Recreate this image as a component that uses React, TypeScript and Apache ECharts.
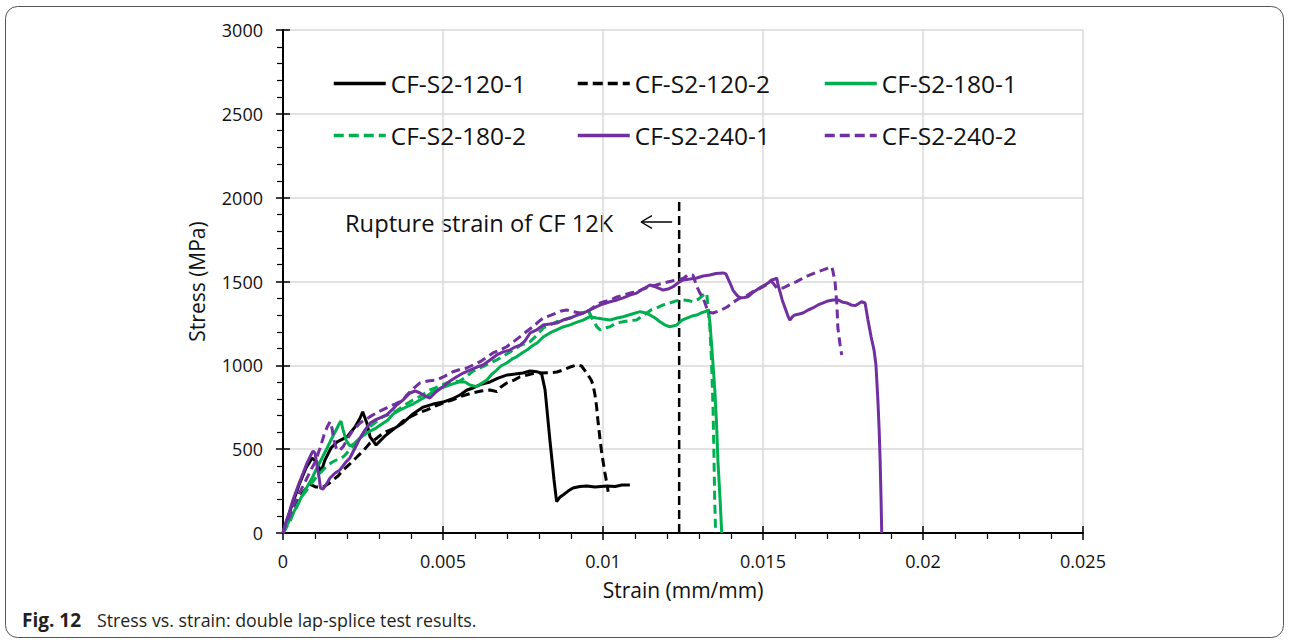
import React, { useEffect, useRef } from "react";
import * as echarts from "echarts";

type Pt = [number, number];

// x axis (strain) and y axis (stress) ranges/ticks
const X_MIN = 0;
const X_MAX = 0.025;
const X_STEP = 0.005;
const Y_MIN = 0;
const Y_MAX = 3000;
const Y_STEP = 500;

// CF-S2-120-1 (black solid)
const S120_1: Pt[] = [
  [0, 0], [0.00025, 149], [0.0005, 286], [0.00072, 388], [0.00091, 447], [0.00106, 423],
  [0.00119, 364], [0.00131, 435], [0.0015, 507], [0.00169, 543], [0.002, 573], [0.00225, 632],
  [0.00241, 686], [0.00249, 723], [0.00262, 656], [0.00272, 573], [0.00291, 525], [0.00319, 579],
  [0.0035, 626], [0.00375, 656], [0.00406, 710], [0.00438, 751], [0.00469, 769], [0.005, 781],
  [0.00528, 799], [0.00553, 823], [0.00575, 853], [0.00594, 865], [0.00622, 889], [0.00647, 901],
  [0.00672, 924], [0.00699, 942], [0.00725, 948], [0.0075, 954], [0.00772, 966], [0.00793, 962],
  [0.00808, 952], [0.00819, 853], [0.00834, 555], [0.00847, 316], [0.00855, 187], [0.00866, 215],
  [0.00875, 227], [0.00891, 250], [0.00906, 268], [0.00928, 277], [0.00949, 280], [0.00975, 274],
  [0.01012, 280], [0.01038, 277], [0.01059, 286], [0.01084, 286],
];

// CF-S2-120-2 (black dashed)
const S120_2: Pt[] = [
  [0, 0], [0.00013, 60], [0.00031, 137], [0.00044, 179], [0.00063, 245], [0.00084, 292],
  [0.00103, 274], [0.00125, 274], [0.00141, 292], [0.00156, 316], [0.00172, 340], [0.00188, 376],
  [0.00209, 412], [0.00231, 453], [0.00253, 495], [0.00272, 537], [0.00294, 567], [0.00313, 596],
  [0.00334, 614], [0.00356, 632], [0.00375, 668], [0.00397, 692], [0.00422, 716], [0.0045, 734],
  [0.00475, 757], [0.005, 775], [0.00528, 793], [0.00559, 817], [0.00591, 835], [0.00619, 847],
  [0.00647, 853], [0.00668, 843], [0.00681, 871], [0.00699, 895], [0.00722, 912], [0.00741, 932],
  [0.00763, 942], [0.00781, 951], [0.00803, 954], [0.00834, 956], [0.00856, 960], [0.00875, 972],
  [0.00897, 990], [0.00918, 1002], [0.00933, 996], [0.00949, 954], [0.00963, 913], [0.00969, 883],
  [0.00975, 823], [0.0098, 753], [0.00984, 674], [0.00991, 555], [0.00997, 465], [0.01006, 358],
  [0.01013, 286], [0.01016, 246],
];

// CF-S2-180-1 (green solid)
const S180_1: Pt[] = [
  [0, 0], [0.00013, 48], [0.00028, 107], [0.00044, 161], [0.00059, 221], [0.00075, 274],
  [0.00091, 328], [0.00106, 388], [0.00122, 447], [0.00138, 507], [0.00153, 567], [0.00166, 614],
  [0.00175, 650], [0.00181, 668], [0.00188, 614], [0.00197, 555], [0.00209, 519], [0.00222, 531],
  [0.00234, 555], [0.00253, 584], [0.00272, 608], [0.00291, 626], [0.00309, 650], [0.00328, 674],
  [0.00344, 710], [0.00366, 734], [0.00387, 753], [0.00406, 769], [0.00428, 793], [0.0045, 817],
  [0.00469, 843], [0.00494, 865], [0.00522, 883], [0.00541, 895], [0.00553, 902], [0.00569, 901],
  [0.00584, 883], [0.00605, 873], [0.00622, 895], [0.00637, 912], [0.00653, 948], [0.00668, 972],
  [0.00681, 996], [0.00699, 1014], [0.00716, 1038], [0.0073, 1051], [0.00747, 1074], [0.00762, 1091],
  [0.00778, 1115], [0.00794, 1133], [0.00813, 1169], [0.00834, 1193], [0.00855, 1211], [0.00875, 1229],
  [0.00897, 1241], [0.00919, 1258], [0.00938, 1270], [0.00959, 1290], [0.0098, 1282], [0.01, 1276],
  [0.01022, 1270], [0.01044, 1282], [0.01063, 1290], [0.01091, 1306], [0.01116, 1320], [0.01134, 1312],
  [0.01147, 1300], [0.01163, 1282], [0.01178, 1260], [0.01194, 1240], [0.01209, 1230], [0.0123, 1240],
  [0.01247, 1270], [0.01262, 1282], [0.01278, 1294], [0.01293, 1300], [0.01306, 1312], [0.01319, 1320],
  [0.01328, 1330], [0.01334, 1258], [0.01339, 1133], [0.01344, 1002], [0.0135, 835], [0.01355, 644],
  [0.01359, 435], [0.01366, 197], [0.01371, 0],
];

// CF-S2-180-2 (green dashed)
const S180_2: Pt[] = [
  [0, 0], [0.00012, 38], [0.00022, 67], [0.00031, 113], [0.00043, 157], [0.00056, 209],
  [0.00074, 256], [0.00088, 292], [0.00105, 336], [0.00116, 358], [0.00125, 376], [0.00141, 406],
  [0.00156, 425], [0.00172, 441], [0.00183, 447], [0.00194, 465], [0.00203, 485], [0.00216, 513],
  [0.0023, 545], [0.0025, 590], [0.00272, 634], [0.00294, 668], [0.00313, 694], [0.00334, 710],
  [0.00355, 728], [0.00375, 757], [0.00406, 793], [0.00431, 817], [0.00459, 853], [0.00484, 871],
  [0.00512, 895], [0.00531, 901], [0.00553, 907], [0.00575, 936], [0.00594, 966], [0.00616, 984],
  [0.00641, 1008], [0.00668, 1032], [0.00694, 1062], [0.00719, 1091], [0.00744, 1121], [0.00772, 1141],
  [0.00791, 1175], [0.00813, 1223], [0.00834, 1241], [0.00855, 1260], [0.00875, 1270], [0.00897, 1282],
  [0.00919, 1300], [0.00938, 1312], [0.00953, 1330], [0.00969, 1270], [0.00981, 1229], [0.00991, 1211],
  [0.01006, 1223], [0.01022, 1230], [0.01041, 1252], [0.01063, 1260], [0.01084, 1267], [0.01105, 1270],
  [0.01122, 1294], [0.01137, 1312], [0.0115, 1330], [0.01168, 1342], [0.01188, 1360], [0.01209, 1372],
  [0.01228, 1384], [0.0125, 1390], [0.01266, 1387], [0.01281, 1379], [0.01294, 1390], [0.01303, 1402],
  [0.01313, 1419], [0.01324, 1431], [0.01328, 1360], [0.01334, 1230], [0.01339, 1032], [0.01342, 853],
  [0.01344, 734], [0.01347, 435], [0.01349, 197], [0.01352, 0],
];

// CF-S2-240-1 (purple solid)
const S240_1: Pt[] = [
  [0, 0], [0.00006, 48], [0.00019, 119], [0.00031, 197], [0.00047, 280], [0.00063, 358],
  [0.00075, 417], [0.0009, 477], [0.00094, 489], [0.001, 477], [0.00106, 406], [0.00113, 328],
  [0.00117, 268], [0.00125, 262], [0.00134, 286], [0.00147, 328], [0.00163, 358], [0.00178, 376],
  [0.00194, 417], [0.00209, 447], [0.00225, 507], [0.00241, 567], [0.00256, 614], [0.00272, 656],
  [0.00288, 674], [0.00303, 686], [0.00324, 704], [0.00344, 740], [0.00355, 763], [0.00375, 793],
  [0.00397, 835], [0.00413, 847], [0.00428, 835], [0.00444, 817], [0.00459, 805], [0.00478, 841],
  [0.005, 873], [0.00522, 907], [0.00543, 932], [0.00563, 954], [0.00584, 972], [0.00606, 990],
  [0.00625, 1002], [0.00647, 1032], [0.00668, 1062], [0.00688, 1080], [0.00709, 1091], [0.00725, 1109],
  [0.00741, 1121], [0.00756, 1145], [0.00772, 1193], [0.00793, 1211], [0.00813, 1241], [0.00834, 1246],
  [0.00855, 1252], [0.00875, 1270], [0.00897, 1282], [0.00919, 1300], [0.00938, 1312], [0.00959, 1330],
  [0.0098, 1350], [0.01, 1366], [0.01022, 1379], [0.01044, 1390], [0.01063, 1402], [0.01084, 1419],
  [0.01105, 1431], [0.01125, 1455], [0.01147, 1479], [0.01166, 1467], [0.01188, 1449], [0.01203, 1455],
  [0.01219, 1469], [0.01234, 1491], [0.0125, 1509], [0.01272, 1515], [0.01293, 1521], [0.01313, 1533],
  [0.01334, 1539], [0.01353, 1548], [0.01375, 1551], [0.01384, 1545], [0.01397, 1491], [0.01406, 1449],
  [0.01418, 1419], [0.01428, 1402], [0.01441, 1405], [0.01453, 1409], [0.01466, 1431], [0.0148, 1449],
  [0.01494, 1467], [0.01506, 1479], [0.01516, 1491], [0.01527, 1509], [0.01538, 1515], [0.01543, 1521],
  [0.01547, 1479], [0.01553, 1439], [0.0156, 1390], [0.01569, 1342], [0.01578, 1294], [0.01584, 1270],
  [0.01594, 1294], [0.016, 1300], [0.01613, 1306], [0.01625, 1312], [0.01641, 1330], [0.01656, 1342],
  [0.01672, 1360], [0.01688, 1372], [0.01703, 1384], [0.01719, 1390], [0.01734, 1390], [0.01747, 1378],
  [0.01762, 1372], [0.01775, 1360], [0.01788, 1356], [0.01797, 1366], [0.01808, 1379], [0.01819, 1372],
  [0.01828, 1270], [0.01838, 1169], [0.01847, 1091], [0.01853, 1002], [0.01859, 793], [0.01863, 614],
  [0.01866, 435], [0.01869, 197], [0.01871, 0],
];

// CF-S2-240-2 (purple dashed)
const S240_2: Pt[] = [
  [0, 0], [0.00009, 54], [0.00016, 78], [0.00028, 137], [0.00041, 197], [0.00053, 245],
  [0.00069, 304], [0.00084, 364], [0.001, 423], [0.00116, 507], [0.00128, 584], [0.00138, 632],
  [0.00147, 664], [0.00153, 626], [0.00159, 555], [0.00168, 495], [0.00178, 495], [0.00188, 515],
  [0.00203, 567], [0.00219, 614], [0.00241, 656], [0.00272, 694], [0.00297, 722], [0.00324, 746],
  [0.0035, 769], [0.00375, 793], [0.00387, 823], [0.00406, 859], [0.00428, 895], [0.00453, 907],
  [0.0048, 912], [0.00506, 936], [0.00531, 962], [0.00553, 975], [0.00574, 984], [0.00594, 1002],
  [0.00616, 1022], [0.00638, 1050], [0.00656, 1074], [0.00678, 1091], [0.00699, 1111], [0.00719, 1139],
  [0.00741, 1171], [0.00763, 1205], [0.00781, 1230], [0.00797, 1258], [0.00813, 1282], [0.00834, 1297],
  [0.00855, 1312], [0.00869, 1324], [0.00887, 1330], [0.00903, 1321], [0.00928, 1312], [0.00944, 1318],
  [0.00959, 1330], [0.00975, 1354], [0.00991, 1372], [0.01006, 1381], [0.01022, 1390], [0.01044, 1408],
  [0.01063, 1419], [0.01084, 1431], [0.01105, 1439], [0.01125, 1455], [0.01147, 1469], [0.01166, 1479],
  [0.01188, 1491], [0.01209, 1500], [0.0123, 1509], [0.0125, 1518], [0.01266, 1539], [0.01281, 1539],
  [0.01294, 1467], [0.01303, 1431], [0.01313, 1402], [0.01322, 1354], [0.01328, 1318], [0.01344, 1312],
  [0.01366, 1327], [0.01388, 1348], [0.01406, 1375], [0.01428, 1402], [0.01447, 1413], [0.01466, 1437],
  [0.01484, 1452], [0.015, 1469], [0.01516, 1488], [0.01527, 1499], [0.01534, 1485], [0.01543, 1461],
  [0.01563, 1461], [0.01584, 1482], [0.01605, 1499], [0.01625, 1521], [0.01647, 1539], [0.01669, 1557],
  [0.01688, 1569], [0.01703, 1580], [0.01715, 1588], [0.01719, 1557], [0.01725, 1499], [0.01731, 1360],
  [0.01734, 1223], [0.01741, 1121], [0.01746, 1062],
];

// Rupture strain annotation
const RUPTURE_LINE: Pt[] = [[0.01238, 0], [0.01238, 1990]];
const ARROW_SHAFT: Pt[] = [[0.01216, 1855], [0.0112, 1855]];
const ARROW_HEAD: Pt[] = [[0.01153, 1893], [0.01119, 1855], [0.01153, 1817]];
const RUPTURE_TEXT = "Rupture strain of CF 12K";

const SERIES_NAMES = ["CF-S2-120-1", "CF-S2-120-2", "CF-S2-180-1", "CF-S2-180-2", "CF-S2-240-1", "CF-S2-240-2"];
const SERIES_DATA = [S120_1, S120_2, S180_1, S180_2, S240_1, S240_2];
const SERIES_COLORS = ["#000000", "#000000", "#00B050", "#00B050", "#7030A0", "#7030A0"];
const SERIES_DASHED = [false, true, false, true, false, true];

const CAPTION_BOLD = "Fig. 12";
const CAPTION_TEXT = "Stress vs. strain: double lap-splice test results.";

const FONT = "'Open Sans', 'Noto Sans', sans-serif";
const DASH = [9, 5];

export default function App() {
  const ref = useRef<HTMLDivElement>(null);

  useEffect(() => {
    if (!ref.current) return;
    const chart = echarts.init(ref.current, undefined, { renderer: "svg" });

    const legendLeft = [332, 576, 823];
    const legendTop = [71, 123];

    const dataSeries = SERIES_NAMES.map((name, i) => ({
      name,
      type: "line",
      data: SERIES_DATA[i],
      xAxisIndex: 0,
      yAxisIndex: 0,
      symbol: "none",
      showSymbol: false,
      smooth: false,
      z: 3,
      color: SERIES_COLORS[i],
      lineStyle: {
        color: SERIES_COLORS[i],
        width: 3,
        type: SERIES_DASHED[i] ? DASH : "solid",
        cap: "butt",
      },
    }));

    const option: any = {
      animation: false,
      backgroundColor: "#ffffff",
      textStyle: { fontFamily: FONT },
      grid: { left: 283, right: 207, top: 30, bottom: 107, containLabel: false },
      legend: SERIES_NAMES.map((name, i) => ({
        data: [name],
        left: legendLeft[i % 3],
        top: legendTop[Math.floor(i / 3)],
        padding: 0,
        itemWidth: 52,
        itemHeight: 14,
        itemGap: 0,
        selectedMode: false,
        itemStyle: { opacity: 0, borderWidth: 0 },
        lineStyle: {
          width: 3.5,
          color: SERIES_COLORS[i],
          type: SERIES_DASHED[i] ? [10, 5] : "solid",
        },
        textStyle: { fontSize: 24.5, fontFamily: FONT, color: "#111" },
      })),
      xAxis: [
        {
          type: "value",
          min: X_MIN,
          max: X_MAX,
          interval: X_STEP,
          position: "bottom",
          name: "Strain (mm/mm)",
          nameLocation: "middle",
          nameGap: 46,
          nameTextStyle: { fontSize: 21, color: "#111", fontFamily: FONT },
          axisLine: { show: true, onZero: false, lineStyle: { color: "#000", width: 2 } },
          axisTick: { show: true, inside: false, length: 7, lineStyle: { color: "#000", width: 1.5 } },
          minorTick: { show: true, splitNumber: 5, length: 6, lineStyle: { color: "#000", width: 1.2 } },
          axisLabel: {
            fontSize: 18,
            color: "#111",
            margin: 19,
            fontFamily: FONT,
            formatter: (v: number) => String(+v.toFixed(3)),
          },
          splitLine: { show: true, lineStyle: { color: "#d9d9d9", width: 1.5 } },
        },
        {
          type: "value",
          min: X_MIN,
          max: X_MAX,
          interval: X_STEP,
          position: "bottom",
          axisLine: { show: false },
          axisTick: { show: true, inside: true, length: 7, lineStyle: { color: "#000", width: 1.5 } },
          axisLabel: { show: false },
          splitLine: { show: false },
        },
      ],
      yAxis: [
        {
          type: "value",
          min: Y_MIN,
          max: Y_MAX,
          interval: Y_STEP,
          position: "left",
          name: "Stress (MPa)",
          nameLocation: "middle",
          nameGap: 76,
          nameTextStyle: { fontSize: 21, color: "#111", fontFamily: FONT },
          axisLine: { show: true, onZero: false, lineStyle: { color: "#000", width: 2 } },
          axisTick: { show: true, inside: false, length: 7, lineStyle: { color: "#000", width: 1.5 } },
          minorTick: { show: true, splitNumber: 5, length: 6, lineStyle: { color: "#000", width: 1.2 } },
          axisLabel: {
            fontSize: 18,
            color: "#111",
            margin: 20,
            fontFamily: FONT,
            formatter: (v: number) => String(v),
          },
          splitLine: { show: true, lineStyle: { color: "#d9d9d9", width: 1.5 } },
        },
        {
          type: "value",
          min: Y_MIN,
          max: Y_MAX,
          interval: Y_STEP,
          position: "left",
          axisLine: { show: false },
          axisTick: { show: true, inside: true, length: 7, lineStyle: { color: "#000", width: 1.5 } },
          axisLabel: { show: false },
          splitLine: { show: false },
        },
      ],
      series: [
        ...dataSeries,
        {
          name: "rupture",
          type: "line",
          data: RUPTURE_LINE,
          symbol: "none",
          z: 2,
          lineStyle: { color: "#000", width: 2.5, type: DASH },
        },
        {
          name: "arrowShaft",
          type: "line",
          data: ARROW_SHAFT,
          symbol: "none",
          z: 2,
          lineStyle: { color: "#000", width: 1.3 },
        },
        {
          name: "arrowHead",
          type: "line",
          data: ARROW_HEAD,
          symbol: "none",
          z: 2,
          lineStyle: { color: "#000", width: 1.3 },
        },
      ],
      graphic: [
        {
          type: "rect",
          shape: { x: 5.5, y: 6.5, width: 1278, height: 631, r: 12 },
          style: { fill: "none", stroke: "#555", lineWidth: 1 },
          silent: true,
          z: -10,
        },
        {
          type: "text",
          x: 345,
          y: 223,
          style: {
            text: RUPTURE_TEXT,
            fontSize: 23.7,
            fontFamily: FONT,
            fill: "#111",
            verticalAlign: "middle",
            align: "left",
          },
        },
        {
          type: "text",
          x: 22,
          y: 620,
          style: {
            text: CAPTION_BOLD,
            fontSize: 19,
            fontWeight: "bold",
            fontFamily: FONT,
            fill: "#231f20",
            verticalAlign: "middle",
            align: "left",
          },
        },
        {
          type: "text",
          x: 97,
          y: 620,
          style: {
            text: CAPTION_TEXT,
            fontSize: 17.8,
            fontFamily: FONT,
            fill: "#231f20",
            verticalAlign: "middle",
            align: "left",
          },
        },
      ],
    };

    chart.setOption(option);
    return () => chart.dispose();
  }, []);

  return (
    <div
      ref={ref}
      style={{ position: "fixed", left: 0, top: 0, width: 1290, height: 640, background: "#fff" }}
    />
  );
}
